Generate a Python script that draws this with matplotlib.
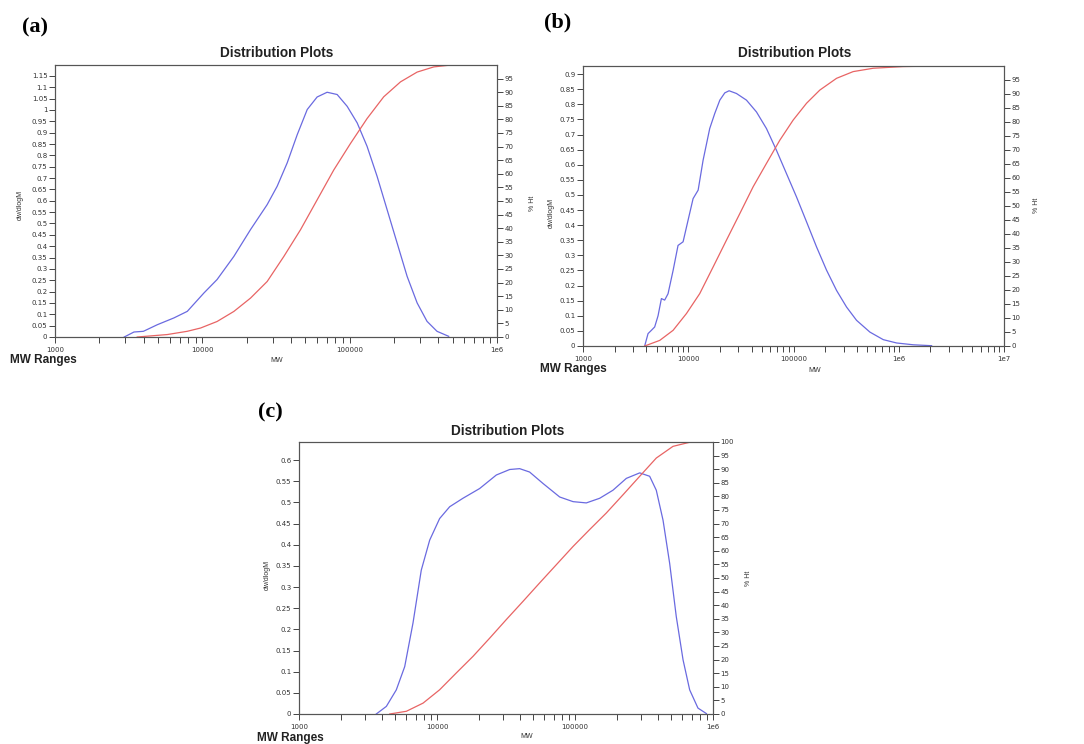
import numpy as np
import matplotlib
matplotlib.use("Agg")
from matplotlib import pyplot as plt
from matplotlib.ticker import FixedLocator, FuncFormatter, LogLocator, NullFormatter

# values, MW stored as log10(MW)
a_blue_logm = [3.47, 3.536, 3.60, 3.694, 3.807, 3.898, 4.011, 4.10, 4.214, 4.327, 4.44, 4.508,
               4.576, 4.644, 4.712, 4.779, 4.847, 4.915, 4.983, 5.051, 5.118, 5.186, 5.254,
               5.322, 5.39, 5.458, 5.525, 5.593, 5.672]
a_blue_w = [0.0, 0.022, 0.025, 0.054, 0.084, 0.113, 0.194, 0.253, 0.355, 0.473, 0.583, 0.664,
            0.767, 0.891, 1.002, 1.057, 1.078, 1.068, 1.016, 0.943, 0.84, 0.708, 0.561,
            0.414, 0.267, 0.15, 0.069, 0.025, 0.003]
a_red_logm = [3.558, 3.762, 3.898, 3.988, 4.10, 4.214, 4.327, 4.44, 4.553, 4.666, 4.779, 4.892,
              5.005, 5.118, 5.231, 5.345, 5.458, 5.571, 5.672]
a_red_pct = [0, 0.9, 2.1, 3.3, 5.7, 9.4, 14.3, 20.4, 29.6, 39.4, 50.4, 61.4,
             71.1, 80.3, 88.3, 93.8, 97.4, 99.3, 99.9]

b_blue_logm = [3.586, 3.618, 3.65, 3.681, 3.713, 3.745, 3.776, 3.808, 3.856, 3.903, 3.951,
               3.998, 4.046, 4.094, 4.141, 4.204, 4.252, 4.30, 4.347, 4.388, 4.458, 4.553,
               4.648, 4.743, 4.838, 4.933, 5.028, 5.124, 5.219, 5.314, 5.409, 5.504, 5.599,
               5.726, 5.853, 5.98, 6.138, 6.312]
b_blue_w = [0.0, 0.041, 0.052, 0.063, 0.10, 0.157, 0.152, 0.173, 0.25, 0.333, 0.345,
            0.416, 0.488, 0.516, 0.615, 0.72, 0.77, 0.814, 0.838, 0.845, 0.836, 0.814,
            0.775, 0.72, 0.648, 0.571, 0.494, 0.411, 0.328, 0.251, 0.184, 0.129, 0.085,
            0.046, 0.021, 0.01, 0.004, 0.001]
b_red_logm = [3.586, 3.729, 3.856, 3.983, 4.109, 4.236, 4.363, 4.49, 4.617, 4.743, 4.87,
              4.997, 5.124, 5.25, 5.409, 5.567, 5.758, 6.043, 6.36]
b_red_pct = [0, 2.0, 5.6, 11.6, 18.7, 28.2, 37.8, 47.3, 56.9, 65.2, 73.5,
             80.7, 86.7, 91.4, 95.6, 98.0, 99.2, 99.8, 100]

c_blue_logm = [3.56, 3.633, 3.705, 3.766, 3.826, 3.886, 3.947, 4.019, 4.092, 4.188, 4.309,
               4.43, 4.527, 4.599, 4.671, 4.768, 4.889, 4.986, 5.082, 5.179, 5.275, 5.372,
               5.469, 5.541, 5.589, 5.638, 5.686, 5.734, 5.783, 5.831, 5.891, 5.952]
c_blue_w = [0.0, 0.018, 0.057, 0.112, 0.215, 0.34, 0.411, 0.462, 0.49, 0.51, 0.533,
            0.565, 0.578, 0.58, 0.572, 0.545, 0.513, 0.502, 0.499, 0.51, 0.529, 0.557,
            0.57, 0.562, 0.529, 0.458, 0.356, 0.23, 0.128, 0.057, 0.014, 0.001]
c_red_logm = [3.657, 3.778, 3.899, 4.019, 4.14, 4.261, 4.382, 4.502, 4.623, 4.744, 4.865,
              4.986, 5.106, 5.227, 5.348, 5.469, 5.589, 5.71, 5.831, 6.0]
c_red_pct = [0, 1.0, 4.0, 8.9, 15.1, 21.2, 27.9, 34.7, 41.4, 48.2, 54.9,
             61.6, 67.8, 73.9, 80.6, 87.4, 94.1, 98.4, 99.9, 100]

xtick_names = {1e3: "1000", 1e4: "10000", 1e5: "100000", 1e6: "1e6", 1e7: "1e7"}

W, H = 1084, 744
BLUE = "#6a6ae0"
RED = "#e86464"
fig = plt.figure(figsize=(W / 100, H / 100), dpi=100)


def px(x, y):
    return x / W, 1 - y / H


def panel(box, xmax, ymax, ystep, ytop, rtop, blue, red):
    l, t, r, b = box
    ax = fig.add_axes([l / W, 1 - b / H, (r - l) / W, (b - t) / H])
    ax.plot(10 ** np.array(blue[0]), blue[1], color=BLUE, lw=0.9)
    ax.set_xscale("log")
    ax.set_xlim(1e3, xmax)
    ax.set_ylim(0, ymax)
    ax.yaxis.set_major_locator(FixedLocator(np.round(np.arange(0, ytop + 1e-9, ystep), 2)))
    ax.yaxis.set_major_formatter(FuncFormatter(lambda v, p: "%g" % v))
    ax.xaxis.set_major_locator(FixedLocator([v for v in xtick_names if v <= xmax]))
    ax.xaxis.set_major_formatter(FuncFormatter(lambda v, p: xtick_names.get(v, "")))
    ax.xaxis.set_minor_locator(LogLocator(base=10, subs=np.arange(2, 10)))
    ax.xaxis.set_minor_formatter(NullFormatter())
    ax2 = ax.twinx()
    ax2.plot(10 ** np.array(red[0]), red[1], color=RED, lw=0.9)
    ax2.set_ylim(0, 100)
    ax2.yaxis.set_major_locator(FixedLocator(np.arange(0, rtop + 1, 5)))
    for a in (ax, ax2):
        for s in a.spines.values():
            s.set_color("#555555")
            s.set_linewidth(0.8)
        a.tick_params(axis="both", which="both", direction="out", length=4, width=0.7,
                      labelsize=5, pad=1.5, color="#444444", labelcolor="#333333")
    ax.tick_params(axis="x", which="both", length=4.5, pad=3)
    return ax


panel((55, 65, 497, 337), 1e6, 1.198, 0.05, 1.15, 95,
      (a_blue_logm, a_blue_w), (a_red_logm, a_red_pct))
panel((583, 66, 1004, 346), 1e7, 0.927, 0.05, 0.9, 95,
      (b_blue_logm, b_blue_w), (b_red_logm, b_red_pct))
panel((299, 442, 713, 714), 1e6, 0.643, 0.05, 0.6, 100,
      (c_blue_logm, c_blue_w), (c_red_logm, c_red_pct))

sans = ["Liberation Sans", "DejaVu Sans"]
serif = ["Liberation Serif", "DejaVu Serif"]


def txt(x, y, s, **kw):
    fig.text(*px(x, y), s, **kw)


# panel letters, titles and labels
for x, y, s in [(35, 27, "(a)"), (558, 22, "(b)"), (270, 412, "(c)")]:
    txt(x, y, s, ha="center", va="center", family=serif, weight="bold", fontsize=16)
for x, y in [(277, 53), (795, 53), (508, 431)]:
    txt(x, y, "Distribution Plots", ha="center", va="center", family=sans,
        weight="bold", fontsize=9.8, color="#222222")
for x, y in [(10, 360), (540, 369), (257, 738)]:
    txt(x, y, "MW Ranges", ha="left", va="center", family=sans, weight="bold",
        fontsize=8.5, color="#222222")
for x, y in [(277, 361), (815, 370), (527, 737)]:
    txt(x, y, "MW", ha="center", va="center", family=sans, fontsize=5, color="#333333")
for x, y in [(20, 205), (551, 213), (267, 575)]:
    txt(x, y, "dw/dlogM", ha="center", va="center", rotation=90, family=sans,
        fontsize=5, color="#333333")
for x, y in [(533, 203), (1037, 205), (748, 578)]:
    txt(x, y, "% Ht", ha="center", va="center", rotation=90, family=sans,
        fontsize=5, color="#333333")

fig.savefig("out.png", dpi=100)
